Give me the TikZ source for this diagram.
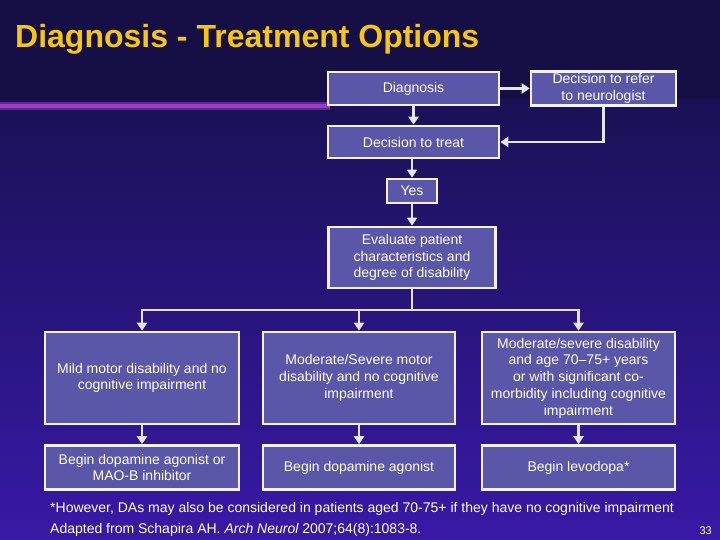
\documentclass[tikz,border=0pt]{standalone}
\usepackage{fontspec}
\setmainfont{Liberation Sans}
\usetikzlibrary{arrows.meta}
\definecolor{bgtop}{HTML}{150F46}
\definecolor{bgmid}{HTML}{2C1690}
\definecolor{bgupper}{HTML}{1A1156}
\definecolor{bgbot}{HTML}{3819A6}
\definecolor{boxfill}{HTML}{5A56A8}
\definecolor{boxline}{HTML}{F2F2FA}
\definecolor{arrcol}{HTML}{E4E4F0}
\definecolor{titlecol}{HTML}{F5C518}
\definecolor{bandcol}{HTML}{9A3CC8}
\tikzset{
  box/.style={draw=boxline, line width=2.6pt, fill=boxfill, text=white,
    align=center, inner sep=2pt, font=\fontsize{14}{16.7}\selectfont},
  arr/.style={draw=arrcol, line width=2.6pt,
    -{Triangle[width=10pt,length=8pt]}},
  conn/.style={draw=arrcol, line width=2.6pt},
  note/.style={text=white, inner sep=0pt, font=\fontsize{14}{16}\selectfont}
}
\begin{document}
\begin{tikzpicture}[x=1pt,y=-1pt]
\useasboundingbox (0,0) rectangle (720,540);
% background
\fill[bgtop] (0,0) rectangle (720,100);
\shade[top color=bgupper, middle color=bgmid, bottom color=bgbot] (0,100) rectangle (720,540);
\fill[bandcol!55!bgtop] (0,102) rectangle (330,110);
\fill[bandcol] (0,104) rectangle (330,108);

% title
\node[anchor=base west, inner sep=0pt, text=titlecol,
  font=\bfseries\fontsize{32}{34}\selectfont] (title) at (15,48)
  {Diagnosis - Treatment Options};

% boxes
\node[box, minimum width=171pt, minimum height=33pt] (diag) at (413.5,88.5) {Diagnosis};
\node[box, minimum width=145pt, minimum height=33pt] (refer) at (603.5,88.5) {Decision to refer\\to neurologist};
\node[box, minimum width=171pt, minimum height=32pt] (treat) at (413.5,142) {Decision to treat};
\node[box, minimum width=50pt, minimum height=24pt] (yes) at (412,191) {Yes};
\node[box, minimum width=167pt, minimum height=61pt] (eval) at (412,257.5) {Evaluate patient\\characteristics and\\degree of disability};

\node[box, minimum width=194pt, minimum height=92pt] (l1) at (142,378) {Mild motor disability and no\\cognitive impairment};
\node[box, minimum width=192pt, minimum height=92pt] (m1) at (359,378) {Moderate/Severe motor\\disability and no cognitive\\impairment};
\node[box, minimum width=193pt, minimum height=92pt] (r1) at (578.5,378) {Moderate/severe disability\\and age 70--75+ years\\or with significant co-\\morbidity including cognitive\\impairment};

\node[box, minimum width=194pt, minimum height=44pt] (l2) at (142,467.5) {Begin dopamine agonist or\\MAO-B inhibitor};
\node[box, minimum width=192pt, minimum height=44pt] (m2) at (359,467.5) {Begin dopamine agonist};
\node[box, minimum width=193pt, minimum height=44pt] (r2) at (578.5,467.5) {Begin levodopa*};

% connectors
\draw[arr] (diag.east) -- (refer.west);
\draw[arr] (diag.south) -- (treat.north);
\draw[arr] (refer.south) |- (treat.east);
\draw[arr] (treat.south -| yes.north) -- (yes.north);
\draw[arr] (yes.south) -- (eval.north);
\coordinate (br) at (412,310);
\draw[conn] (eval.south) -- (br);
\draw[arr] (br) -| (l1.north);
\draw[arr] (br) -| (r1.north);
\draw[arr] (br -| m1.north) -- (m1.north);
\draw[arr] (l1.south) -- (l2.north);
\draw[arr] (m1.south) -- (m2.north);
\draw[arr] (r1.south) -- (r2.north);

% notes
\node[note, anchor=base west] (fn) at (50,512)
  {*However, DAs may also be considered in patients aged 70-75+ if they have no cognitive impairment};
\node[note, anchor=base west] (src) at (50,533)
  {Adapted from Schapira AH. {\itshape Arch Neurol} 2007;64(8):1083-8.};
\node[note, anchor=base east, font=\fontsize{11}{13}\selectfont] (pg) at (712,534) {33};
\end{tikzpicture}
\end{document}
